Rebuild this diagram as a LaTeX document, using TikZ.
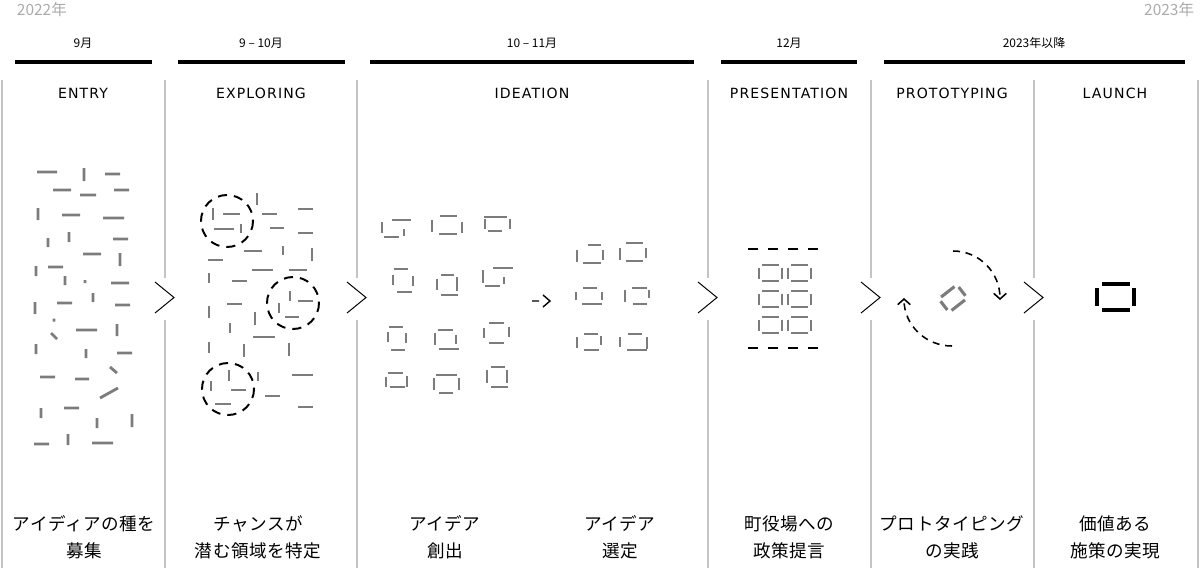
\documentclass[tikz,border=0pt]{standalone}
\usepackage{xcolor}
\usepackage{fontspec}
\setmainfont{DejaVu Sans}
\newfontfamily\jpfont{Noto Sans CJK JP}
\newfontfamily\notefont[LetterSpace=3]{Noto Sans CJK JP}
\newfontfamily\capfont[LetterSpace=8]{DejaVu Sans}
\usepackage{tikz}
\usetikzlibrary{calc}
\usetikzlibrary{arrows.meta}
\usetikzlibrary{positioning}

\definecolor{seedgray}{HTML}{7C7C7C}
\definecolor{sepgray}{HTML}{C4C4C4}
\definecolor{yeargray}{HTML}{ABABAB}

\tikzset{
  sep/.style={draw=sepgray, line width=0.9pt},
  bar/.style={draw=black, line width=2.8pt},
  chev/.style={draw=black, line width=0.7pt},
  seed/.style={draw=seedgray, line width=2pt},
  ring/.style={draw=black, line width=1.4pt, dash pattern=on 6.5pt off 5pt},
  cycle/.style={draw=black, line width=1.1pt, dash pattern=on 5pt off 4pt, -{Straight Barb[length=4pt,width=9pt]}},
  year/.style={text=yeargray, font=\jpfont\fontsize{11}{13}\selectfont},
  month/.style={font=\jpfont\fontsize{8.5}{10}\selectfont},
  phase/.style={font=\capfont\fontsize{10}{12}\selectfont},
  note/.style={font=\notefont\fontsize{12.5}{19}\selectfont, align=center},
}

\begin{document}
\begin{tikzpicture}[x=0.025cm, y=-0.025cm]
\useasboundingbox (0,0) rectangle (1200,568);

% years and months
\node [year, anchor=west] (yr22) at (12,10) {2022年};
\node [year, anchor=east] (yr23) at (1199,10) {2023年};
\node [month] (m1) at (83,43) {9月};
\node [month] (m2) at (261,43) {9 – 10月};
\node [month] (m3) at (532,43) {10 – 11月};
\node [month] (m4) at (789,43) {12月};
\node [month] (m5) at (1034,43) {2023年以降};
\draw [bar] (15,62) -- (152,62);
\draw [bar] (178,62) -- (345,62);
\draw [bar] (370,62) -- (694,62);
\draw [bar] (721,62) -- (857,62);
\draw [bar] (884,62) -- (1185,62);

% columns
\draw [sep] (2,80) -- (2,568) (1198,80) -- (1198,568);
\foreach \s in {165,357,708,871,1034} {
  \draw [sep] (\s,80) -- (\s,278) (\s,320) -- (\s,568);
  \draw [chev] ({\s-10},282) -- ({\s+9},297.5) -- ({\s-10},313);
}
\node [phase] (entry) at (83,93) {ENTRY};
\node [phase] (exploring) at (261,93) {EXPLORING};
\node [phase] (ideation) at (532,93) {IDEATION};
\node [phase] (presentation) at (789,93) {PRESENTATION};
\node [phase] (prototyping) at (952,93) {PROTOTYPING};
\node [phase] (launch) at (1115,93) {LAUNCH};

% entry: scattered seeds
\draw [seed] (37,172) -- (57,172) (84,168) -- (84,181) (105,174) -- (120,174)
  (53,190) -- (71,190) (80,195) -- (96,195) (114,190) -- (129,190)
  (38,208) -- (38,220) (62,215) -- (80,215) (103,218) -- (124,218)
  (48,238) -- (48,247) (69,232) -- (69,242) (113,239) -- (128,239)
  (83,254) -- (101,254) (120,253) -- (120,266) (36,266) -- (36,276)
  (48,267) -- (63,267) (65,276) -- (65,285) (85,280) -- (85,283)
  (111,283) -- (129,283) (35,302) -- (35,314) (57,303) -- (72,303)
  (93,293) -- (93,302) (115,305) -- (130,305) (54,318.5) -- (54,321.5)
  (51,333) -- (57,339) (76,330) -- (97,330) (117,324) -- (117,336)
  (36,344) -- (36,354) (86,349) -- (86,358) (117,353) -- (132,353)
  (110,367) -- (117,373) (40,377) -- (55,377) (75,379) -- (89,379)
  (100,398) -- (118,388) (64,408) -- (79,408) (41,408) -- (41,418)
  (97,418) -- (97,428) (132,414) -- (132,427) (34,444) -- (49,444)
  (68,434) -- (68,445) (92,443) -- (113,443);

% exploring: seeds and rings
\draw [seed] (257,193) -- (257,205) (213,208) -- (213,220) (223,214) -- (240,214)
  (262,214) -- (277,214) (298,209) -- (313,209) (214,229) -- (234,229)
  (241,224) -- (241,233) (270,228) -- (284,228) (298,233) -- (313,233)
  (244,251) -- (262,251) (283,246) -- (283,255) (312,248) -- (312,261)
  (208,260) -- (223,260) (252,270) -- (273,270) (289,270) -- (307,270)
  (209,273) -- (209,283) (232,281) -- (247,281) (290,291) -- (290,301)
  (298,301) -- (313,301) (279,303) -- (279,313) (227,304) -- (242,304)
  (285,317) -- (299,317) (209,306) -- (209,318) (255,312) -- (255,325)
  (230,323) -- (230,333) (253,337) -- (275,337) (209,342) -- (209,353)
  (244,344) -- (244,357) (289,343) -- (289,356) (229,370) -- (229,381)
  (258,372) -- (258,381) (292,375) -- (313,375) (211,381) -- (211,391)
  (231,390) -- (246,390) (265,396) -- (280,396) (215,404) -- (231,404)
  (298,407) -- (313,407);
\draw [ring] (227,221) circle [radius=26];
\draw [ring] (293,303) circle [radius=26];
\draw [ring] (228,389) circle [radius=26];

% ideation: many ideas
\draw [seed] (392,220) -- (411,220) (382,222) -- (382,233) (384,237) -- (399,237) (404,229) -- (404,236)
  (440,216) -- (457,216) (439,234) -- (457,234) (432,220) -- (432,232) (462,222) -- (462,233)
  (484,217) -- (507,217) (488,231) -- (502,231) (485,219) -- (485,229) (510,219) -- (510,229)
  (394,269) -- (408,269) (397,292) -- (412,292) (393,275) -- (393,285) (413,276) -- (413,286)
  (441,275) -- (454,275) (441,295) -- (458,295) (437,279) -- (437,290) (457,277) -- (457,291)
  (493,268) -- (513,268) (483,270) -- (483,283) (485,286) -- (500,286) (504,277) -- (504,284)
  (389,327) -- (403,327) (391,350) -- (405,350) (388,332) -- (388,342) (406,333) -- (406,343)
  (438,330) -- (453,330) (439,349) -- (459,349) (435,333) -- (435,345) (456,335) -- (456,344)
  (489,323) -- (504,323) (489,343) -- (504,343) (484,328) -- (484,338) (509,327) -- (509,337)
  (388,373) -- (403,373) (390,387) -- (405,387) (386,377) -- (386,387) (407,376) -- (407,387)
  (436,375) -- (457,375) (439,393) -- (453,393) (434,378) -- (434,390) (459,378) -- (459,390)
  (491,367) -- (505,367) (491,387) -- (508,387) (487,370) -- (487,383) (507,370) -- (507,383);
\draw [chev, line width=1pt] (532,301) -- (539,301) (543,295) -- (550,301) -- (543,307);
% ideation: chosen ideas
\draw [seed] (588,245) -- (601,245) (583,263) -- (601,263) (577,250) -- (577,262) (603,250) -- (603,260)
  (626,243) -- (643,243) (626,261) -- (643,261) (620,248) -- (620,260) (646,248) -- (646,258)
  (583,288) -- (597,288) (582,304) -- (602,304) (576,292) -- (576,300) (602,292) -- (602,300)
  (632,288) -- (647,288) (633,304) -- (647,304) (625,290) -- (625,302) (649,290) -- (649,298)
  (584,334) -- (598,334) (584,350) -- (599,350) (577,337) -- (577,348) (601,336) -- (601,345)
  (628,334) -- (642,334) (627,350) -- (647,350) (620,337) -- (620,347) (647,337) -- (647,349);

% presentation
\draw [black, line width=1.4pt, dash pattern=on 7.1pt off 7.1pt] (748,249) -- (818,249);
\draw [black, line width=1.4pt, dash pattern=on 7.1pt off 7.1pt] (748,348) -- (818,348);
\foreach \x in {759,788} {
  \foreach \y in {265,291,317} {
    \draw [seed, line width=2pt] ({\x+3},\y) -- ({\x+20},\y) ({\x+3},{\y+16}) -- ({\x+20},{\y+16})
      (\x,{\y+2.5}) -- (\x,{\y+13.5}) ({\x+23},{\y+2.5}) -- ({\x+23},{\y+13.5});
  }
}

% prototyping
\begin{scope}[shift={(953,298.5)}, rotate=38]
\draw [seed, line width=2.2pt] (-8.5,-8.5) -- (8.5,-8.5) (-8.5,8.5) -- (8.5,8.5)
  (-11.5,-5.5) -- (-11.5,5.5) (11.5,-5.5) -- (11.5,5.5);
\end{scope}
\coordinate (cyA) at (953,251);
\coordinate (cyB) at (1000,300);
\coordinate (cyC) at (952,346);
\coordinate (cyD) at (904,298);
\draw [cycle] (cyA) .. controls (979,251) and (1000,272) .. (cyB);
\draw [cycle] (cyC) .. controls (925.5,346) and (904,325) .. (cyD);

% launch
\draw [black, line width=3.5pt] (1102,284) -- (1130,284) (1102,310) -- (1130,310)
  (1097,288) -- (1097,306) (1134,288) -- (1134,306);

% outcomes
\node [note] (t1) at (84,537) {アイディアの種を\\募集};
\node [note] (t2) at (258,537) {チャンスが\\潜む領域を特定};
\node [note] (t3) at (445,537) {アイデア\\創出};
\node [note] (t4) at (620,537) {アイデア\\選定};
\node [note] (t5) at (789,537) {町役場への\\政策提言};
\node [note] (t6) at (952,537) {プロトタイピング\\の実践};
\node [note] (t7) at (1115,537) {価値ある\\施策の実現};
\end{tikzpicture}
\end{document}
